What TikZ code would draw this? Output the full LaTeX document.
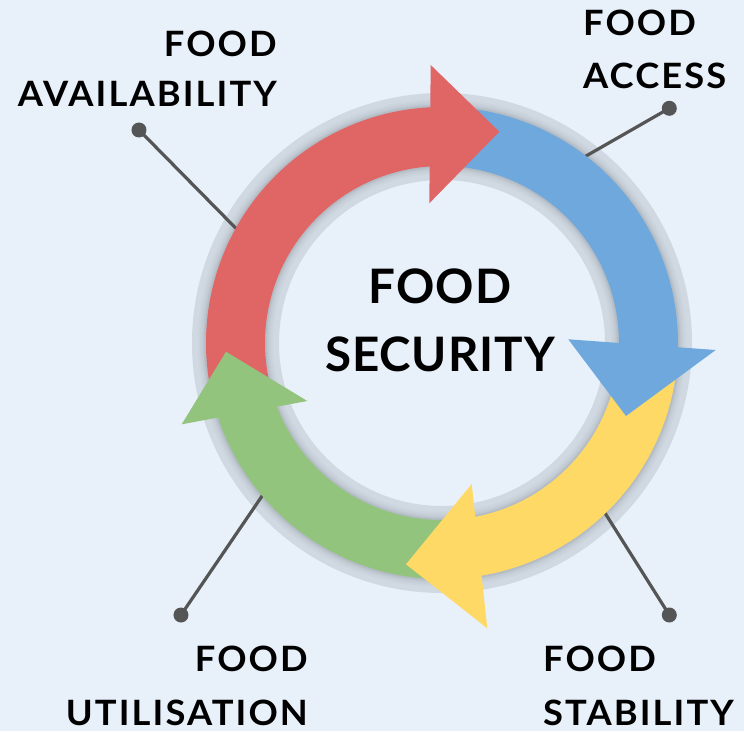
\documentclass[tikz,border=0pt]{standalone}
\usepackage{fontspec}
\setmainfont{Lato}
\newfontfamily\labfont{Lato}[FakeStretch=1.04, LetterSpace=6]
\newfontfamily\centrefont{Lato}[LetterSpace=2]
\usetikzlibrary{calc}
\definecolor{bg}{HTML}{E8F0FA}
\definecolor{ringgrey}{HTML}{D0D8E1}
\definecolor{shadowgrey}{HTML}{8E969E}
\definecolor{redA}{HTML}{E06666}
\definecolor{blueA}{HTML}{6FA8DC}
\definecolor{yellowA}{HTML}{FFD966}
\definecolor{greenA}{HTML}{93C47D}
\definecolor{leader}{HTML}{555555}
\begin{document}
\begin{tikzpicture}[x=1pt,y=1pt,
  leaderline/.style={draw=leader, line width=3.2pt},
  leaderdot/.style={circle, fill=leader, inner sep=0pt, minimum size=15pt},
  labeltext/.style={inner sep=0pt, text depth=0pt},
  centertext/.style={inner sep=0pt, text depth=0pt, align=center, font=\centrefont\bfseries\fontsize{47.5}{68}\selectfont}]
\useasboundingbox (-442,-388) rectangle (302,343);
\fill[bg] (-442,-388) rectangle (302,343);
% grey ring
\fill[ringgrey, even odd rule] (0,0) circle (250) (0,0) circle (163);
% soft shadow of the coloured band
\foreach \w/\o in {75/0.06,71/0.08,67/0.10,64/0.12,62/0.14}
  \draw[shadowgrey, line width=\w pt, opacity=\o] (0,0) circle (206.5);
% leader lines
\node[leaderdot] (avDot) at (-303,213) {};
\node[leaderdot] (acDot) at (227.3,234.7) {};
\node[leaderdot] (utDot) at (-261,-272) {};
\node[leaderdot] (stDot) at (227.3,-272) {};
\coordinate (avEnd) at (-200.3,108.8);
\coordinate (acEnd) at (140.6,185);
\coordinate (utEnd) at (-173.2,-143.1);
\coordinate (stEnd) at (150.9,-150.8);
\draw[leaderline] (avDot.center) -- (avEnd);
\draw[leaderline] (acDot.center) -- (acEnd);
\draw[leaderline] (utDot.center) -- (utEnd);
\draw[leaderline] (stDot.center) -- (stEnd);
% arrow bodies
\fill[redA] (195:177) arc[start angle=195, end angle=91, radius=177] -- (91:236) arc[start angle=91, end angle=195, radius=236] -- cycle;
\fill[blueA] (88:177) arc[start angle=88, end angle=-3, radius=177] -- (-3:236) arc[start angle=-3, end angle=88, radius=236] -- cycle;
\fill[yellowA] (-5:177) arc[start angle=-5, end angle=-82, radius=177] -- (-82:236) arc[start angle=-82, end angle=-5, radius=236] -- cycle;
\fill[greenA] (-84:177) arc[start angle=-84, end angle=-162.5, radius=177] -- (-162.5:236) arc[start angle=-162.5, end angle=-84, radius=236] -- cycle;
% arrow heads
\fill[redA] (-11.3,278) -- (57.3,211.3) -- (-12.7,139.7) -- cycle;
\fill[blueA] (126.3,3.7) -- (273.7,-7) -- (184,-73) -- cycle;
\fill[yellowA] (29.7,-141) -- (45.3,-285.3) -- (-36,-221.3) -- cycle;
\fill[greenA] (-260.3,-81.3) -- (-134.7,-58) -- (-216,-8.7) -- cycle;
% texts
\node[centertext, anchor=south] (centre) at (-2,-29) {FOOD\\SECURITY};
\node[labeltext, align=right, anchor=south east, font=\labfont\bfseries\fontsize{34.9}{50}\selectfont] (avail) at (-165,236) {FOOD\\AVAILABILITY};
\node[labeltext, align=left, anchor=south west, font=\labfont\bfseries\fontsize{34.9}{53}\selectfont] (access) at (141,254) {FOOD\\ACCESS};
\node[labeltext, align=right, anchor=south east, font=\labfont\bfseries\fontsize{34.9}{54}\selectfont] (util) at (-134,-383) {FOOD\\UTILISATION};
\node[labeltext, align=left, anchor=south west, font=\labfont\bfseries\fontsize{34.9}{54}\selectfont] (stab) at (101,-383) {FOOD\\STABILITY};
\end{tikzpicture}
\end{document}
